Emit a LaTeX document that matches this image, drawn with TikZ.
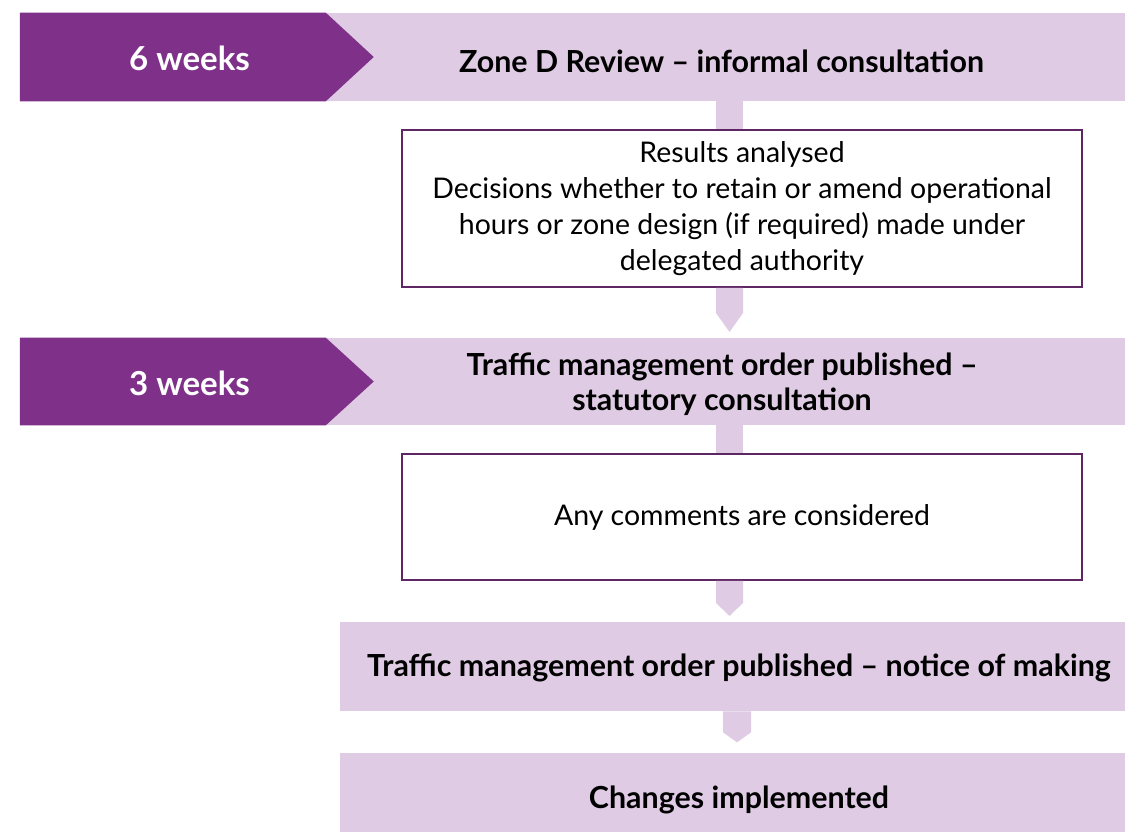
\documentclass[tikz,border=0pt]{standalone}
\usepackage{fontspec}
\setmainfont{Lato}
\usetikzlibrary{calc}
\definecolor{zonedark}{HTML}{7F318A}
\definecolor{zonelight}{HTML}{DFCBE4}
\definecolor{zoneline}{HTML}{5E2663}

\begin{document}
\begin{tikzpicture}[x=0.02cm, y=-0.02cm,
	band/.style={fill=zonelight, inner sep=0pt},
	head/.style={font=\bfseries\fontsize{17.3}{20}\selectfont, align=center},
	weeks/.style={text=white, font=\bfseries\fontsize{18.8}{24}\selectfont},
	box/.style={draw=zoneline, line width=1.1pt, fill=white, align=center, minimum width=13.6cm, font=\fontsize{16.2}{20.5}\selectfont}]
		%%%%% START %%%%%
		\useasboundingbox (0, 0) rectangle (1125, 832);
		
		% bands
		\node[band, minimum width=22.1cm, minimum height=1.76cm] (z1) at (572.5, 57) {};
		\node[band, minimum width=22.1cm, minimum height=1.74cm] (z2) at (572.5, 381.5) {};
		\node[band, minimum width=15.7cm, minimum height=1.78cm] (z3) at (732.5, 666.5) {};
		\node[band, minimum width=15.7cm, minimum height=1.58cm] (z4) at (732.5, 792.5) {};
		
		% week arrows
		\fill[zonedark] (z1.north west) -- ($(z1.north west)+(306, 0)$) -- ($(z1.west)+(354, 0)$) -- ($(z1.south west)+(306, 0)$) -- (z1.south west) -- cycle;
		\fill[zonedark] (z2.north west) -- ($(z2.north west)+(306, 0)$) -- ($(z2.west)+(354, 0)$) -- ($(z2.south west)+(306, 0)$) -- (z2.south west) -- cycle;
		\node[weeks] (w1) at (189.5, 58) {6 weeks};
		\node[weeks] (w2) at (189.5, 383) {3 weeks};
		
		% boxes
		\node[box, minimum height=3.14cm] (b1) at (742, 208.5) {Results analysed\\Decisions whether to retain or amend operational\\hours or zone design (if required) made under\\delegated authority};
		\node[box, minimum height=2.52cm] (b2) at (742, 517) {Any comments are considered};
		
		% stems and arrows
		\fill[zonelight] ($(z1.south -| b1.north)+(-26, 0)$) rectangle ($(b1.north)+(1, 0)$);
		\fill[zonelight] ($(b1.south)+(-26, 0)$) -- ($(b1.south)+(1, 0)$) -- ($(b1.south)+(1, 25)$) -- ($(b1.south)+(-12.5, 44)$) -- ($(b1.south)+(-26, 25)$) -- cycle;
		\fill[zonelight] ($(z2.south -| b2.north)+(-26, 0)$) rectangle ($(b2.north)+(1, 0)$);
		\fill[zonelight] ($(b2.south)+(-26, 0)$) -- ($(b2.south)+(1, 0)$) -- ($(b2.south)+(1, 22)$) -- ($(b2.south)+(-12.5, 35)$) -- ($(b2.south)+(-26, 22)$) -- cycle;
		\fill[zonelight] ($(z3.south)+(-9.5, 0)$) -- ($(z3.south)+(18.5, 0)$) -- ($(z3.south)+(18.5, 21)$) -- ($(z3.south)+(4.5, 31)$) -- ($(z3.south)+(-9.5, 21)$) -- cycle;
		
		% headings
		\node[head] (t1) at (721.5, 61) {Zone D Review – informal consultation};
		\node[head] (t2) at (722, 384) {Traffic management order published –\\statutory consultation};
		\node[head] (t3) at (739, 668) {Traffic management order published – notice of making};
		\node[head] (t4) at (739, 800) {Changes implemented};
		%%%%% END %%%%%
	\end{tikzpicture}
\end{document}
